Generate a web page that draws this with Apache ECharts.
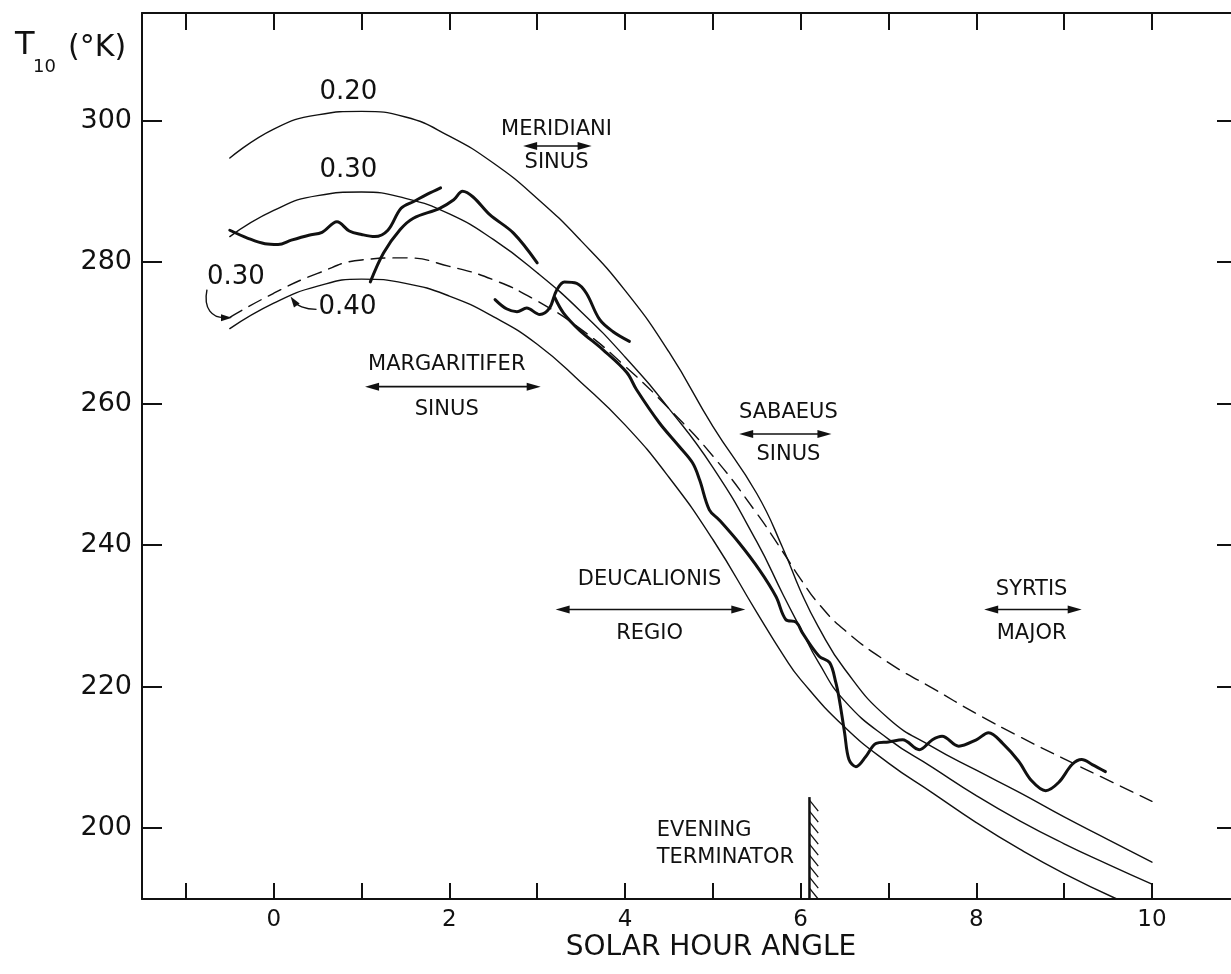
<!DOCTYPE html>
<html><head><meta charset="utf-8">
<script src="https://cdn.jsdelivr.net/npm/echarts@6/dist/echarts.min.js"></script>
<style>html,body{margin:0;padding:0;background:#fff;overflow:hidden}#c{width:1231px;height:974px}</style>
</head><body><div id="c"></div>
<script>
// ---------- data ----------
const xTicks = [-1,0,1,2,3,4,5,6,7,8,9,10];
const xLabels = [0,2,4,6,8,10];
const yTicks = [200,220,240,260,280,300];

// model curves: [solar hour angle, T10 (K)]
const curve020 = [[-0.5,294.7],[0,298.8],[0.5,300.8],[1.0,301.3],[1.5,300.5],[2.0,297.8],[2.5,294.0],[3.0,289.0],[3.5,283.0],[4.0,276.0],[4.5,267.3],[5.0,256.8],[5.5,247.3],[5.8,239.5],[6.0,233.5],[6.2,228.5],[6.5,222.5],[7.0,215.5],[7.5,211.5],[8.0,208.2],[8.5,205.0],[9.0,201.6],[9.5,198.4],[10.0,195.2]];
const curve030 = [[-0.5,283.6],[0,287.3],[0.5,289.4],[1.0,289.9],[1.5,289.0],[2.0,286.8],[2.5,283.2],[3.0,278.5],[3.5,273.0],[4.0,266.6],[4.5,259.3],[5.0,251.0],[5.5,240.5],[5.8,233.0],[6.0,228.2],[6.2,223.5],[6.5,218.0],[7.0,212.6],[7.5,208.6],[8.0,204.6],[8.5,201.0],[9.0,197.8],[9.5,194.9],[10.0,192.1]];
const curve040 = [[-0.5,270.6],[0,274.2],[0.5,276.6],[1.0,277.6],[1.5,277.0],[2.0,275.2],[2.5,272.3],[3.0,268.4],[3.5,263.0],[4.0,257.0],[4.5,249.6],[5.0,240.8],[5.5,230.5],[5.8,224.5],[6.0,221.0],[6.5,214.3],[7.0,209.2],[7.5,205.0],[8.0,200.8],[8.5,197.0],[9.0,193.6],[9.6,190.0]];
const curve030dashed = [[-0.5,272.2],[0,275.6],[0.5,278.4],[1.0,280.3],[1.5,280.6],[2.0,279.4],[2.5,277.5],[3.0,274.5],[3.5,270.5],[4.0,265.3],[4.5,259.3],[5.0,252.6],[5.5,244.5],[5.8,239.0],[6.0,235.2],[6.2,231.8],[6.5,228.0],[7.0,223.4],[7.5,219.8],[8.0,216.2],[8.5,212.9],[9.0,209.8],[9.5,206.8],[10.0,203.8]];

// observed brightness temperature traces
const obsA = [[-0.5,284.5],[-0.3,283.4],[-0.1,282.6],[0.05,282.5],[0.2,283.1],[0.4,283.8],[0.55,284.2],[0.72,285.7],[0.86,284.4],[1.0,283.9],[1.15,283.6],[1.3,284.5],[1.45,287.6],[1.6,288.6],[1.75,289.6],[1.9,290.5]];
const obsB = [[1.1,277.2],[1.25,281.3],[1.44,284.6],[1.59,286.2],[1.89,287.6],[2.05,288.8],[2.15,290.0],[2.27,289.2],[2.46,286.7],[2.73,284.1],[3.0,279.9]];
const obsC = [[2.52,274.7],[2.65,273.4],[2.77,273.0],[2.88,273.5],[3.03,272.6],[3.14,273.5],[3.22,276.0],[3.31,277.2],[3.45,277.0],[3.56,275.6],[3.71,271.9],[3.86,270.2],[4.05,268.8]];
const obsD = [[3.2,275.0],[3.3,272.8],[3.48,270.4],[3.75,267.6],[4.02,264.4],[4.13,262.0],[4.39,257.3],[4.62,253.9],[4.77,251.6],[4.85,249.2],[4.96,245.0],[5.07,243.6],[5.3,240.3],[5.53,236.5],[5.72,232.7],[5.83,229.5],[5.95,229.1],[6.02,227.6],[6.21,224.3],[6.33,223.4],[6.4,220.6],[6.44,218.2],[6.5,213.5],[6.55,209.7],[6.63,208.7],[6.74,210.1],[6.86,212.0],[7.0,212.2],[7.16,212.5],[7.35,211.1],[7.5,212.5],[7.61,213.0],[7.8,211.6],[8.0,212.5],[8.14,213.5],[8.3,212.0],[8.48,209.5],[8.63,206.7],[8.79,205.3],[8.94,206.5],[9.09,209.0],[9.2,209.7],[9.32,209.0],[9.47,208.0]];

// evening terminator: [hour angle, top of marker]
const terminator = [[6.1, 204.4]];

// ---------- drawing ----------
const INK = '#111';
const FONT = 'DejaVu Sans';
const chart = echarts.init(document.getElementById('c'));

function curve(data, width, dashed, smooth) {
  return {type:'line', data, symbol:'none', showSymbol:false, smooth:smooth,
    silent:true, animation:false, z:3,
    lineStyle:{color:INK, width, type: dashed ? [14,8] : 'solid', cap:'round', join:'round'}};
}
const axisLineStyle = {color:INK, width:2};

const option = {
  backgroundColor:'#fff',
  animation:false,
  grid:{left:142, right:-2, top:13, bottom:75},
  xAxis:[
    {type:'value', min:-1.5, max:10.9, position:'bottom',
     axisLine:{onZero:false, lineStyle:axisLineStyle},
     axisTick:{inside:true, length:16, customValues:xTicks, lineStyle:axisLineStyle},
     axisLabel:{customValues:xLabels, color:INK, fontSize:23, fontFamily:FONT, margin:10},
     splitLine:{show:false}},
    {type:'value', min:-1.5, max:10.9, position:'top',
     axisLine:{onZero:false, lineStyle:axisLineStyle},
     axisTick:{inside:true, length:17, customValues:xTicks, lineStyle:axisLineStyle},
     axisLabel:{show:false}, splitLine:{show:false}}
  ],
  yAxis:[
    {type:'value', min:190, max:315.2, position:'left',
     axisLine:{onZero:false, lineStyle:axisLineStyle},
     axisTick:{inside:true, length:20, customValues:yTicks, lineStyle:axisLineStyle},
     axisLabel:{customValues:yTicks, color:INK, fontSize:27, fontFamily:FONT, margin:10},
     splitLine:{show:false}},
    {type:'value', min:190, max:315.2, position:'right',
     axisLine:{show:false, onZero:false},
     axisTick:{inside:true, length:14, customValues:yTicks, lineStyle:axisLineStyle},
     axisLabel:{show:false}, splitLine:{show:false}}
  ],
  series:[
    curve(curve020, 1.4, false, 0.5),
    curve(curve030, 1.4, false, 0.5),
    curve(curve040, 1.4, false, 0.5),
    curve(curve030dashed, 1.4, true, 0.5),
    curve(obsA, 3, false, 0.35),
    curve(obsB, 3, false, 0.35),
    curve(obsC, 3, false, 0.35),
    curve(obsD, 3, false, 0.35),
    {type:'custom', data:terminator, silent:true, z:4,
     renderItem(params, api){
       const top = api.coord([api.value(0), api.value(1)]);
       const bottom = params.coordSys.y + params.coordSys.height;
       const children = [{type:'line', shape:{x1:top[0], y1:top[1], x2:top[0], y2:bottom}, style:{stroke:INK, lineWidth:2.5}}];
       for (let y = top[1] + 3; y < bottom - 4; y += 11) {
         const y2 = Math.min(y + 11, bottom);
         children.push({type:'line', shape:{x1:top[0], y1:y, x2:top[0] + (y2 - y) * 0.8, y2:y2}, style:{stroke:INK, lineWidth:1.3}});
       }
       return {type:'group', children};
     }}
  ]
};
chart.setOption(option);

// ---------- annotations ----------
const P = (x, y) => chart.convertToPixel({gridIndex:0}, [x, y]);
function txt(x, y, text, size, align) {
  const p = P(x, y);
  return {type:'text', x:p[0], y:p[1], silent:true, z:10,
    style:{text, fill:INK, fontSize:size, fontFamily:FONT, align:align || 'center', verticalAlign:'middle'}};
}
function head(tip, dx, dy, len, half) {
  const n = Math.hypot(dx, dy); const ux = dx / n, uy = dy / n;
  const bx = tip[0] - ux * len, by = tip[1] - uy * len;
  return {type:'polygon', silent:true, z:10,
    shape:{points:[tip, [bx - uy * half, by + ux * half], [bx + uy * half, by - ux * half]]},
    style:{fill:INK}};
}
function dblArrow(x1, x2, y) {
  const a = P(x1, y), b = P(x2, y);
  return [
    {type:'line', silent:true, z:10, shape:{x1:a[0] + 6, y1:a[1], x2:b[0] - 6, y2:b[1]}, style:{stroke:INK, lineWidth:1.6}},
    head(a, -1, 0, 14, 4), head(b, 1, 0, 14, 4)
  ];
}
const regions = [
  ['MERIDIANI','SINUS', 3.22, 298.7, 294.0, 2.84, 3.62, 296.4],
  ['MARGARITIFER','SINUS', 1.97, 265.5, 259.1, 1.04, 3.04, 262.4],
  ['SABAEUS','SINUS', 5.86, 258.8, 252.8, 5.30, 6.35, 255.7],
  ['DEUCALIONIS','REGIO', 4.28, 235.2, 227.5, 3.21, 5.37, 230.9],
  ['SYRTIS','MAJOR', 8.63, 233.7, 227.5, 8.09, 9.20, 230.9]
];
const g = [];
regions.forEach(r => {
  g.push(txt(r[2], r[3], r[0], 21));
  g.push(txt(r[2], r[4], r[1], 21));
  g.push(...dblArrow(r[5], r[6], r[7]));
});
g.push(txt(4.36, 199.7, 'EVENING', 21, 'left'));
g.push(txt(4.36, 195.9, 'TERMINATOR', 21, 'left'));

// curve labels
g.push(txt(0.85, 304.0, '0.20', 26));
g.push(txt(0.85, 293.0, '0.30', 26));
g.push(txt(-0.43, 277.8, '0.30', 26));
g.push(txt(0.84, 273.6, '0.40', 26));

// pointer arrows for lower labels
(function(){
  const c1 = P(-0.43, 277.8);
  const s1 = [c1[0] - 29, c1[1] + 12], e1 = [c1[0] - 6, c1[1] + 40];
  g.push({type:'bezierCurve', silent:true, z:10,
    shape:{x1:s1[0], y1:s1[1], cpx1:s1[0] - 4, cpy1:s1[1] + 20, cpx2:s1[0] + 6, cpy2:e1[1], x2:e1[0] - 6, y2:e1[1]},
    style:{stroke:INK, lineWidth:1.4, fill:null}});
  g.push(head([e1[0] + 2, e1[1]], 1, 0, 11, 3.5));
  const c2 = P(0.84, 273.6);
  const s2 = [c2[0] - 31, c2[1] + 2], e2 = [c2[0] - 57, c2[1] - 11];
  g.push({type:'bezierCurve', silent:true, z:10,
    shape:{x1:s2[0], y1:s2[1], cpx1:s2[0] - 12, cpy1:s2[1], cpx2:s2[0] - 20, cpy2:s2[1] - 4, x2:e2[0] + 4, y2:e2[1] + 5},
    style:{stroke:INK, lineWidth:1.4, fill:null}});
  g.push(head(e2, -0.7, -1, 11, 3.5));
})();

// axis titles
g.push({type:'text', x:711, y:948, silent:true, style:{text:'SOLAR HOUR ANGLE', fill:INK, fontSize:28, fontFamily:FONT, align:'center', verticalAlign:'middle'}});
g.push({type:'text', x:15, y:62, silent:true, style:{text:'T', fill:INK, fontSize:32, fontFamily:FONT, align:'left', verticalAlign:'bottom'}});
g.push({type:'text', x:33, y:76, silent:true, style:{text:'10', fill:INK, fontSize:18, fontFamily:FONT, align:'left', verticalAlign:'bottom'}});
g.push({type:'text', x:68, y:63, silent:true, style:{text:'(°K)', fill:INK, fontSize:30, fontFamily:FONT, align:'left', verticalAlign:'bottom'}});

chart.setOption({graphic:{elements:g}});
</script></body></html>
